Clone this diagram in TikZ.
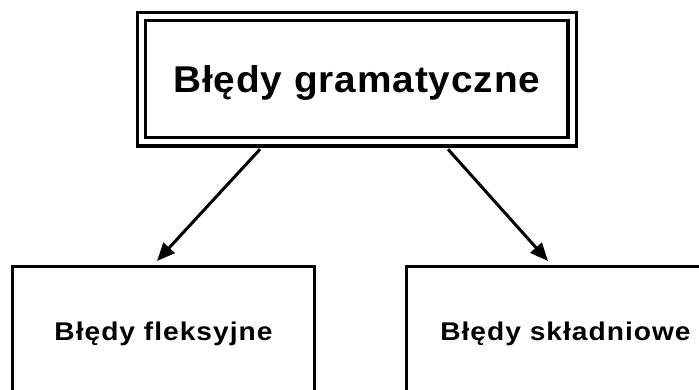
\documentclass[tikz,border=0pt]{standalone}
\usepackage{fontspec}
\setmainfont{Liberation Sans}
\newfontfamily\topfont[FakeStretch=1.04,LetterSpace=2.4]{Liberation Sans}
\newfontfamily\subfont[FakeStretch=1.1,LetterSpace=3.9]{Liberation Sans}
\usetikzlibrary{arrows.meta}
\tikzset{
  mainbox/.style={draw, line width=3.2pt, double, double distance=5pt, fill=white,
    inner sep=0pt, minimum width=430.5pt, minimum height=125.3pt,
    text height=26.7pt, text depth=0pt,
    font=\topfont\bfseries\fontsize{37.3}{40}\selectfont},
  subbox/.style={draw, line width=3pt, inner sep=0pt, minimum height=129.6pt,
    text height=18.3pt, text depth=0pt,
    font=\subfont\bfseries\fontsize{25.6}{28}\selectfont},
  arr/.style={line width=3pt, -{Triangle[length=18pt,width=15pt]}}
}
\begin{document}
\begin{tikzpicture}[x=1pt,y=-1pt]
\useasboundingbox (0,0) rectangle (699,390);
\clip (0,0) rectangle (699,390);
\node[mainbox] (top) at (356.8,79.3) {Błędy gramatyczne};
\node[subbox, minimum width=302pt] (left) at (163.5,331.8) {Błędy fleksyjne};
\node[subbox, minimum width=318pt] (right) at (565.5,331.8) {Błędy składniowe};
\draw[arr] ([xshift=-96.8pt,yshift=-5.7pt]top.south) -- ([xshift=-6.5pt,yshift=4.5pt]left.north);
\draw[arr] ([xshift=91.2pt,yshift=-5.7pt]top.south) -- ([xshift=-17.5pt,yshift=4.5pt]right.north);
\end{tikzpicture}
\end{document}
